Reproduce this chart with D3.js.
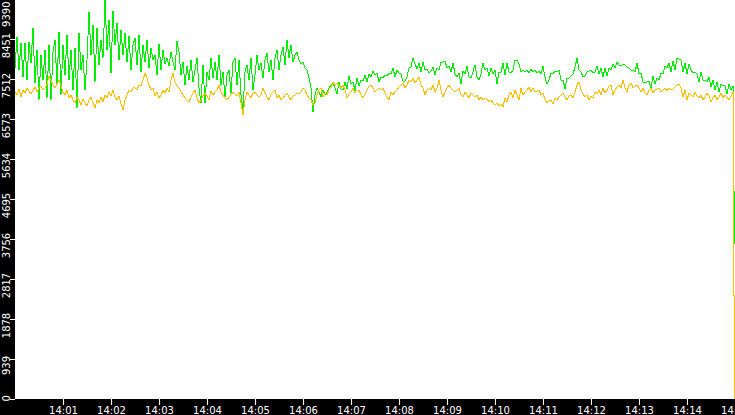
<!DOCTYPE html>
<html>
<head>
<meta charset="utf-8">
<script src="https://cdn.jsdelivr.net/npm/d3@7"></script>
<style>
  html, body { margin: 0; padding: 0; background: #ffffff; overflow: hidden; }
  svg { display: block; }
  text { font-family: "DejaVu Sans", sans-serif; font-size: 10px; fill: #ffffff; }
</style>
</head>
<body>
<svg id="chart" width="735" height="415"></svg>
<script>
// ---- data ----
const startTime = "14:00:00";
const endTime = "14:15:00";
const stepSeconds = 2.5;          // sampling interval of the series
const lastSampleSecond = 899.4;   // final (drop) sample

const yTickValues = [0, 939, 1878, 2817, 3756, 4695, 5634, 6573, 7512, 8451, 9390];
const xTickLabels = ["14:01","14:02","14:03","14:04","14:05","14:06","14:07","14:08","14:09","14:10","14:11","14:12","14:13","14:14","14:15"];

const greenSeries = [
  7770,8498,7723,8357,7559,8357,7488,8381,7888,8709,7418,8193,7019,8075,7488,8193,7066,8310,7019,8146,
  8427,7371,8615,7136,8310,7606,8545,7488,8193,7254,8240,6831,8592,7723,8075,7254,7958,9085,8075,8780,
  7442,8709,7841,8427,8005,9367,8193,8897,7653,9108,8310,8827,7958,8662,8075,8592,7911,8521,7723,8310,
  8474,7841,8545,7676,8310,7911,8427,7770,8240,7958,8075,7606,8334,7723,8193,7864,8005,7817,8146,7911,
  7723,8404,8146,7606,7911,7371,7817,7488,7958,7442,7723,8005,7301,6949,7841,6949,7676,7488,8005,7535,
  7911,7488,8075,7371,7676,7089,7606,7723,7183,7911,8005,7371,7958,7136,6784,7676,7841,7488,8005,7254,
  7606,8075,7723,7888,7535,7958,8122,7676,7958,7488,8005,8193,7723,8075,8263,7841,8427,8005,8310,7911,
  8075,8146,7958,7864,7911,7770,7723,7535,7301,6737,7136,7301,7207,7089,7254,7136,7207,7301,7371,7418,
  7301,7160,7442,7277,7254,7442,7277,7582,7395,7442,7230,7535,7348,7488,7465,7606,7442,7629,7559,7700,
  7606,7653,7442,7559,7535,7606,7582,7653,7629,7770,7559,7723,7653,7629,7465,7465,7559,7770,7794,8005,
  7864,7747,7888,7676,7911,7723,7747,7653,7700,7794,7606,7770,7723,7911,7911,7935,7770,7817,7676,7888,
  7629,7559,7653,7395,7700,7629,7817,7559,7535,7676,7841,7559,7488,7629,7888,7723,7770,7582,7770,7629,
  7723,7395,7676,7676,7888,7606,7888,7676,7653,7723,7958,7958,7864,7676,7723,7676,7723,7653,7747,7676,
  7723,7653,7700,7629,7817,7559,7395,7488,7653,7629,7700,7676,7723,7488,7488,7277,7535,7535,7582,7629,
  7794,8005,7723,7676,7559,7582,7676,7700,7723,7653,7676,7817,7629,7770,7559,7770,7582,7770,7723,7864,
  7770,7911,7841,7817,7864,7841,7794,7770,7723,7723,7676,7888,7629,7653,7442,7418,7442,7465,7301,7582,
  7395,7535,7488,7653,7629,7817,7770,7888,7676,7935,7723,8005,7981,7958,7676,7888,7629,7864,7723,7653,
  7676,7629,7442,7676,7488,7488,7442,7559,7324,7488,7254,7442,7207,7395,7348,7348,7160,7395,7254,7348
];
const greenLast = 3639;

const yellowSeries = [
  7207,7136,7277,7089,7254,7183,7301,7230,7160,7254,7324,7207,7301,7348,7254,7301,7371,7582,7488,7371,
  7301,7395,7488,7348,7207,7136,7254,7066,7136,7019,6949,7089,7019,6902,7042,6949,6878,7019,7089,6949,
  6831,7019,6949,7089,6972,7136,7066,7207,7113,7254,7089,7019,7113,6925,6784,7019,7136,7254,7207,7301,
  7301,7254,7371,7348,7488,7653,7535,7371,7254,7301,7113,7207,7066,7136,7254,7183,7301,7207,7488,7653,
  7442,7348,7301,7207,7136,7066,7019,6972,7089,7183,7254,7066,6949,7019,7113,7183,7113,7019,7230,7136,
  7207,7254,7371,7207,7136,7066,7019,7089,7136,7207,7160,7113,7207,6949,6667,7019,7207,7136,7066,7183,
  7207,7136,7089,7136,7301,7183,7089,7019,7160,7207,7254,7066,7136,7019,7066,7136,7183,7089,7019,7113,
  7136,7183,7160,7207,7301,7254,7136,7066,7019,6902,6949,7136,7254,7301,7089,7183,7136,7254,7301,7442,
  7371,7418,7348,7301,7371,7254,7066,7160,7207,7301,7183,7230,7254,7136,7066,7160,7254,7348,7371,7301,
  7207,7254,7301,7254,7301,7183,7089,7019,7207,7136,7207,7254,7324,7371,7418,7301,7371,7488,7442,7535,
  7418,7488,7559,7371,7301,7136,7254,7301,7254,7371,7207,7301,7488,7254,7089,7207,7301,7371,7301,7254,
  7207,7254,7301,7136,7089,7207,7136,7066,7183,7136,7089,7136,7019,7089,7019,7066,7042,6972,7019,6949,
  6902,6949,6878,6925,6855,7066,6972,7136,7207,7066,7254,7136,7019,7301,7136,7207,7254,7324,7207,7301,
  7207,7230,7254,7136,7183,7019,6949,6996,7019,6925,7066,7019,7089,7136,7183,7089,7019,7113,7136,7066,
  7207,7371,7442,7254,7160,7089,7136,7019,7113,7066,7207,7160,7254,7136,7301,7183,7254,7348,7371,7136,
  7254,7324,7371,7301,7488,7301,7207,7371,7418,7301,7348,7371,7301,7207,7301,7183,7136,7254,7301,7183,
  7254,7277,7301,7207,7254,7301,7230,7301,7254,7277,7324,7371,7395,7301,7089,7254,7019,7183,7136,7089,
  7207,7113,7066,7136,7019,7089,7183,7113,6972,7066,7136,7019,7089,7183,7066,7136,7089,7019,7113,7207
];
const yellowLast = 0;

const greenColor = "#00ee00";
const yellowColor = "#ffc000";

// ---- build ----
const parse = d3.timeParse("%Y-%m-%d %H:%M:%S");
const t0 = parse("2020-01-01 " + startTime);
const t1 = parse("2020-01-01 " + endTime);
const parseTick = d3.timeParse("%Y-%m-%d %H:%M");

function buildSeries(vals, last) {
  const pts = vals.map((v, i) => ({ t: new Date(+t0 + i * stepSeconds * 1000), v }));
  pts.push({ t: new Date(+t0 + lastSampleSecond * 1000), v: last });
  return pts;
}
const green = buildSeries(greenSeries, greenLast);
const yellow = buildSeries(yellowSeries, yellowLast);

const W = 735, H = 415;
const left = 15, bottom = 399;

const x = d3.scaleTime().domain([t0, t1]).range([left, W]);
const y = d3.scaleLinear().domain([0, 9390]).range([bottom, -1]);

const svg = d3.select("#chart");

svg.append("rect").attr("x", 0).attr("y", 0).attr("width", W).attr("height", H).attr("fill", "#ffffff");

const line = d3.line().x(d => x(d.t)).y(d => y(d.v));

svg.append("path").datum(green)
  .attr("d", line).attr("fill", "none").attr("stroke", greenColor)
  .attr("stroke-width", 1).attr("shape-rendering", "crispEdges");
svg.append("path").datum(yellow)
  .attr("d", line).attr("fill", "none").attr("stroke", yellowColor)
  .attr("stroke-width", 1).attr("shape-rendering", "crispEdges");

// black bands
svg.append("rect").attr("x", 0).attr("y", 0).attr("width", left).attr("height", H).attr("fill", "#000");
svg.append("rect").attr("x", 0).attr("y", bottom).attr("width", W).attr("height", H - bottom).attr("fill", "#000");

// x axis
const xTickDates = xTickLabels.map(s => parseTick("2020-01-01 " + s));
const xAxis = d3.axisBottom(x).tickValues(xTickDates).tickSize(6).tickFormat((d, i) => xTickLabels[i]);
const gx = svg.append("g").attr("transform", `translate(0,${bottom})`).call(xAxis);
gx.select(".domain").remove();
gx.selectAll(".tick line").attr("stroke", "#fff").attr("shape-rendering", "crispEdges");
gx.selectAll(".tick text").attr("y", 15).attr("dy", null).attr("fill", "#fff")
  .style("font-family", "DejaVu Sans").style("font-size", "10px");

// y axis
const yAxis = d3.axisLeft(y).tickValues(yTickValues).tickSize(5).tickFormat(d3.format("d"));
const gy = svg.append("g").attr("transform", `translate(${left},0)`).call(yAxis);
gy.select(".domain").remove();
gy.selectAll(".tick line").attr("stroke", "#fff").attr("shape-rendering", "crispEdges");
gy.selectAll(".tick text").each(function(d) {
  const t = d3.select(this);
  t.attr("x", null).attr("dy", null).attr("text-anchor", "middle").attr("fill", "#fff")
   .style("font-family", "DejaVu Sans").style("font-size", "10px");
  const half = this.getComputedTextLength() / 2;
  const ty = y(d);
  let cy = ty + 6;
  if (cy - half < 1) cy = half + 1;
  if (cy + half > 401) cy = 401 - half;
  t.attr("transform", `translate(${9.5 - left},${cy - ty}) rotate(-90)`);
});
</script>
</body>
</html>
